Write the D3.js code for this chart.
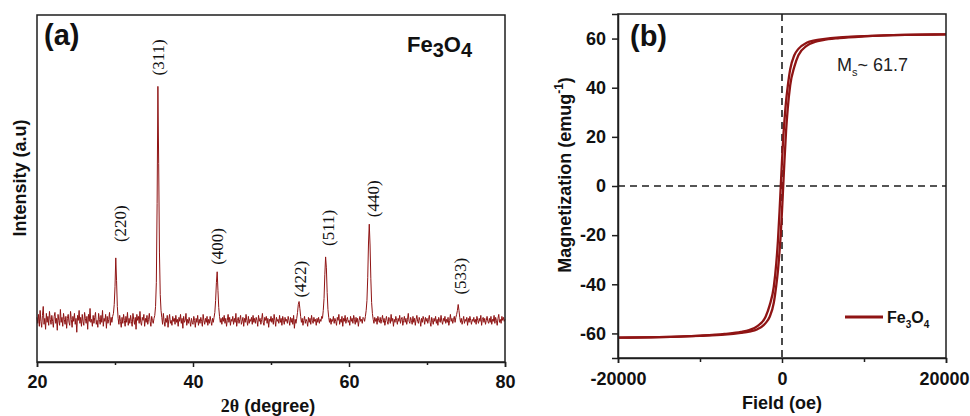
<!DOCTYPE html>
<html>
<head>
<meta charset="utf-8">
<script src="https://cdn.jsdelivr.net/npm/d3@7/dist/d3.min.js"></script>
<style>
body { margin: 0; background: #fff; }
svg { display: block; font-family: "Liberation Sans", Arial, sans-serif; }
</style>
</head>
<body>
<svg></svg>
<script>
// (a) XRD pattern, 20 to 80 deg in 0.1 deg steps
var thetaStart = 20, thetaStep = 0.1;
var xrdCounts = [
45,39,48,36,52,41,35,47,56,38,44,33,49,40,46,37,51,43,38,47,
41,35,46,50,39,44,32,48,42,37,53,40,45,36,49,43,38,46,34,44,
48,40,37,51,43,35,46,41,49,38,44,30,47,42,52,39,45,36,48,41,
37,50,44,39,46,33,48,41,54,40,43,36,47,39,45,50,38,42,35,49,
43,38,47,40,52,36,44,41,48,34,46,39,43,50,37,45,40,46,49,58,
76,105,82,56,44,38,47,41,35,45,39,48,42,36,46,40,50,37,44,39,
47,41,36,49,43,38,45,33,48,42,46,39,51,40,37,45,42,48,36,44,
40,47,38,43,49,41,36,46,42,39,44,47,56,80,160,278,200,110,68,52,
45,38,49,41,36,44,40,47,35,43,48,39,42,37,46,41,44,38,47,40,
43,36,45,41,48,39,44,34,46,40,42,49,37,43,39,45,41,36,44,40,
38,46,42,35,44,40,47,37,43,39,45,41,36,48,42,38,44,40,46,37,
43,39,46,41,37,44,40,45,50,62,80,91,72,55,46,40,44,38,45,41,
47,39,44,36,42,48,40,45,37,43,41,46,38,44,40,49,36,42,45,39,
43,47,38,41,45,36,44,40,48,42,37,46,39,43,41,45,38,47,40,44,
39,45,42,36,47,41,44,38,43,49,40,37,45,42,46,39,44,35,43,41,
46,40,44,38,48,42,36,45,41,43,39,47,40,44,37,46,42,38,45,41,
43,39,46,42,37,45,40,44,38,47,34,43,39,44,50,58,61,54,46,40,
44,37,42,46,39,43,41,36,45,40,44,38,47,42,39,45,41,43,37,44,
40,45,39,43,41,46,44,52,64,88,106,95,70,53,45,40,44,38,43,41,
46,39,44,41,37,45,42,48,38,43,40,46,36,44,41,47,39,43,45,40,
42,37,46,41,44,39,47,43,38,45,40,44,36,42,46,41,43,39,45,44,
41,46,52,62,85,120,139,118,84,60,49,43,39,45,41,44,38,46,42,40,
45,39,43,47,40,44,37,42,46,41,38,45,43,39,48,41,44,36,43,40,
46,42,38,44,41,47,39,43,45,37,42,46,40,44,38,43,49,41,39,45,
42,38,46,40,44,37,43,47,41,39,45,42,36,44,40,46,43,38,45,41,
44,39,43,47,40,36,45,42,38,44,41,46,39,43,37,45,42,40,47,41,
38,44,41,46,39,43,40,45,37,42,48,41,44,39,43,46,40,45,48,52,
58,52,45,40,44,38,42,46,39,43,41,45,37,44,40,46,42,38,43,41,
45,40,43,38,46,42,39,44,41,47,37,43,45,40,44,38,42,46,41,39,
44,40,46,38,43,41,47,39,45,42,37,44,48,40,43,39,46,42,45,41,
43
];
var peakLabels = ['(220)', '(311)', '(400)', '(422)', '(511)', '(440)', '(533)'];
var peakLabelTheta = [30.64, 35.51, 43.08, 53.72, 57.31, 63.08, 74.23];
var peakLabelCounts = [121, 289, 98, 65, 117, 146, 68];
var xrdTicks = [20, 40, 60, 80];
var xrdMinorTicks = [30, 50, 70];

// (b) M-H loop
var fieldOe = [-20000,-15000,-10000,-7000,-5000,-4000,-3000,-2000,-1500,-1000,-700,-500,-300,-150,0,150,300,500,700,1000,1500,2000,3000,4000,5000,7000,10000,15000,20000];
var magDown = [-61.7,-61.5,-60.9,-60.2,-59.4,-58.6,-57.0,-53.2,-48.5,-41.0,-31.5,-22.5,-10.3,0,10.3,19.5,26.6,34.6,40.5,47.5,53.2,55.8,58.3,59.3,59.8,60.5,61.0,61.5,61.7];
var magUp = [-61.7,-61.5,-61.0,-60.5,-59.8,-59.3,-58.3,-55.8,-53.2,-47.5,-40.5,-34.6,-26.6,-19.5,-10.3,0,10.3,22.5,31.5,41.0,48.5,53.2,57.0,58.6,59.4,60.2,60.9,61.5,61.7];
var fieldTicks = [-20000, 0, 20000];
var fieldMinorTicks = [-10000, 10000];
var magTicks = [-60, -40, -20, 0, 20, 40, 60];

var red = '#8f1414';
var ink = '#1e1e1e';

var svg = d3.select('svg')
.attr('width', 970)
.attr('height', 416);

// ---------- panel (a) ----------
var ax = {left: 37, right: 505, top: 15, bottom: 362};

var xScaleA = d3.scaleLinear()
.domain([20, 80])
.range([ax.left, ax.right]);

var yScaleA = d3.scaleLinear()
.domain([0, 350])
.range([ax.bottom, ax.top]);

var xrdLine = d3.line()
.x(function (d, i) { return xScaleA(thetaStart + i * thetaStep); })
.y(function (d) { return yScaleA(d); });

svg.append('path')
.datum(xrdCounts)
.attr('d', xrdLine)
.attr('fill', 'none')
.attr('stroke', red)
.attr('stroke-width', 1)
.attr('stroke-linejoin', 'round');

var gxA = svg.append('g')
.attr('transform', 'translate(0,' + ax.bottom + ')')
.call(d3.axisBottom(xScaleA).tickValues(xrdTicks).tickSize(5).tickPadding(8).tickFormat(function (d) { return d; }));
svg.append('g')
.attr('transform', 'translate(0,' + ax.bottom + ')')
.call(d3.axisBottom(xScaleA).tickValues(xrdMinorTicks).tickSize(3).tickFormat(''))
.select('.domain').remove();

svg.append('rect')
.attr('x', ax.left)
.attr('y', ax.top)
.attr('width', ax.right - ax.left)
.attr('height', ax.bottom - ax.top)
.attr('fill', 'none')
.attr('stroke', ink)
.attr('stroke-width', 1.5);

svg.selectAll('.peak')
.data(peakLabels)
.enter()
.append('text')
.attr('class', 'peak')
.attr('transform', function (d, i) {
    return 'translate(' + xScaleA(peakLabelTheta[i]) + ',' + yScaleA(peakLabelCounts[i]) + ') rotate(-90)';
})
.attr('dy', '0.35em')
.attr('font-family', '"Liberation Serif", "Times New Roman", serif')
.attr('font-size', 17)
.attr('fill', '#111')
.text(function (d) { return d; });

var feA = svg.append('text')
.attr('x', 407)
.attr('y', 52)
.attr('font-size', 22)
.attr('font-weight', 'bold')
.attr('fill', '#111');
feA.append('tspan').text('Fe');
feA.append('tspan').attr('dy', 5).attr('font-size', 20).text('3');
feA.append('tspan').attr('dy', -5).text('O');
feA.append('tspan').attr('dy', 5).attr('font-size', 20).text('4');

svg.append('text')
.attr('x', 44)
.attr('y', 45)
.attr('font-size', 29)
.attr('font-weight', 'bold')
.attr('fill', '#111')
.text('(a)');

svg.append('text')
.attr('transform', 'translate(26,178) rotate(-90)')
.attr('text-anchor', 'middle')
.attr('font-size', 18)
.attr('font-weight', 'bold')
.attr('fill', '#111')
.text('Intensity (a.u)');

var xTitleA = svg.append('text')
.attr('x', 268)
.attr('y', 412)
.attr('text-anchor', 'middle')
.attr('font-size', 18)
.attr('font-weight', 'bold')
.attr('fill', '#111');
xTitleA.append('tspan').attr('font-family', '"Liberation Serif", "Times New Roman", serif').text('2θ');
xTitleA.append('tspan').text(' (degree)');

// ---------- panel (b) ----------
var bx = {left: 618, right: 946, top: 14, bottom: 358};

var xScaleB = d3.scaleLinear()
.domain([-20000, 20000])
.range([bx.left, bx.right]);

var yScaleB = d3.scaleLinear()
.domain([-70, 70])
.range([bx.bottom, bx.top]);

// dashed zero lines
svg.append('line')
.attr('x1', xScaleB(0)).attr('x2', xScaleB(0))
.attr('y1', bx.top).attr('y2', bx.bottom)
.attr('stroke', ink).attr('stroke-width', 1.6).attr('stroke-dasharray', '7,5');
svg.append('line')
.attr('x1', bx.left).attr('x2', bx.right)
.attr('y1', yScaleB(0)).attr('y2', yScaleB(0))
.attr('stroke', ink).attr('stroke-width', 1.6).attr('stroke-dasharray', '7,5');

var loopLine = d3.line()
.x(function (d, i) { return xScaleB(fieldOe[i]); })
.y(function (d) { return yScaleB(d); })
.curve(d3.curveMonotoneX);

svg.selectAll('.branch')
.data([magDown, magUp])
.enter()
.append('path')
.attr('class', 'branch')
.attr('d', loopLine)
.attr('fill', 'none')
.attr('stroke', red)
.attr('stroke-width', 2.3);

var gxB = svg.append('g')
.attr('transform', 'translate(0,' + bx.bottom + ')')
.call(d3.axisBottom(xScaleB).tickValues(fieldTicks).tickSize(5).tickPadding(9).tickFormat(function (d) { return String(d); }));
svg.append('g')
.attr('transform', 'translate(0,' + bx.bottom + ')')
.call(d3.axisBottom(xScaleB).tickValues(fieldMinorTicks).tickSize(4).tickFormat(''))
.select('.domain').remove();

var gyB = svg.append('g')
.attr('transform', 'translate(' + bx.left + ',0)')
.call(d3.axisLeft(yScaleB).tickValues(magTicks).tickSize(6).tickPadding(6).tickFormat(function (d) { return String(d); }));

svg.append('rect')
.attr('x', bx.left)
.attr('y', bx.top)
.attr('width', bx.right - bx.left)
.attr('height', bx.bottom - bx.top)
.attr('fill', 'none')
.attr('stroke', ink)
.attr('stroke-width', 1.5);

[gxA, gxB, gyB].forEach(function (g) {
    g.attr('font-family', null).attr('font-size', null);
    g.selectAll('text')
    .attr('font-size', 18)
    .attr('font-weight', 'bold')
    .attr('fill', '#111');
});
// keep the last field label inside the page
gxB.selectAll('.tick text')
.filter(function (d) { return d === 20000; })
.attr('text-anchor', 'end')
.attr('x', 969 - xScaleB(20000));
svg.selectAll('.domain').attr('stroke', ink).attr('stroke-width', 1.5);
svg.selectAll('.tick line').attr('stroke', ink).attr('stroke-width', 1.5);

svg.append('text')
.attr('x', 630)
.attr('y', 46)
.attr('font-size', 29)
.attr('font-weight', 'bold')
.attr('fill', '#111')
.text('(b)');

var ms = svg.append('text')
.attr('x', xScaleB(6700))
.attr('y', yScaleB(47))
.attr('font-size', 18)
.attr('fill', '#222');
ms.append('tspan').text('M');
ms.append('tspan').attr('dy', 5).attr('font-size', 11).text('s');
ms.append('tspan').attr('dy', -5).text('~ 61.7');

var yTitleB = svg.append('text')
.attr('transform', 'translate(571,175) rotate(-90)')
.attr('text-anchor', 'middle')
.attr('font-size', 18)
.attr('font-weight', 'bold')
.attr('fill', '#111');
yTitleB.append('tspan').text('Magnetization (emug');
yTitleB.append('tspan').attr('dy', -8).attr('font-size', 12).text('-1');
yTitleB.append('tspan').attr('dy', 8).text(')');

svg.append('text')
.attr('x', 782)
.attr('y', 409)
.attr('text-anchor', 'middle')
.attr('font-size', 18)
.attr('font-weight', 'bold')
.attr('fill', '#111')
.text('Field (oe)');

// legend
svg.append('line')
.attr('x1', 845).attr('x2', 883)
.attr('y1', 317).attr('y2', 317)
.attr('stroke', red).attr('stroke-width', 3);
var leg = svg.append('text')
.attr('x', 887)
.attr('y', 323)
.attr('font-size', 16)
.attr('font-weight', 'bold')
.attr('fill', '#111');
leg.append('tspan').text('Fe');
leg.append('tspan').attr('dy', 5).attr('font-size', 10).text('3');
leg.append('tspan').attr('dy', -5).text('O');
leg.append('tspan').attr('dy', 5).attr('font-size', 10).text('4');
</script>
</body>
</html>
